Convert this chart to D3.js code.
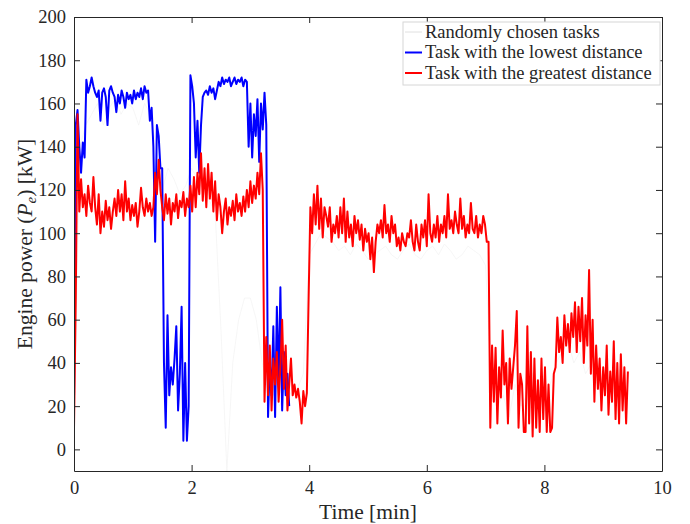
<!DOCTYPE html>
<html>
<style>
body { margin: 0; background: #fff; }
text { font-family: "Liberation Serif", "Times New Roman", serif; fill: #262626; }
</style>
<body>
<script src="https://d3js.org/d3.v7.min.js"></script>
<script>
// sample interval of the recorded traces (min)
var dt = 0.03;
var grayDt = 0.1;

var seriesNames = ["Randomly chosen tasks", "Task with the lowest distance", "Task with the greatest distance"];
var seriesColors = ["#e6e6e6", "#0000ff", "#ff0000"];

var xTicks = [0, 2, 4, 6, 8, 10];
var yTicks = [0, 20, 40, 60, 80, 100, 120, 140, 160, 180, 200];

// engine power [kW], one value per dt
var bluePower = [
  22,150,157,140,128,142,135,171,165,168,
  172,168,165,163,166,152,165,167,163,150,
  166,168,165,163,156,164,160,166,163,158,
  165,162,164,160,166,162,165,163,167,162,
  168,165,166,152,158,140,96,150,145,130,
  130,40,10,62,25,38,30,42,57,18,
  35,66,4,40,4,20,173,168,160,135,
  152,128,150,163,165,166,164,168,165,167,
  162,166,170,168,172,169,171,170,172,168,
  170,172,169,171,170,172,168,171,170,140,
  160,135,155,145,162,133,160,148,165,150,
  15,40,25,57,15,66,30,75,18,45,
  25,35,20
];

var redPower = [
  10,70,155,110,125,112,118,108,122,114,
  110,126,112,104,118,100,110,103,115,106,
  112,102,110,116,108,120,110,118,106,124,
  110,116,106,113,108,114,103,110,121,112,
  108,116,110,114,108,112,128,118,134,120,
  112,106,118,109,116,104,114,110,118,107,
  115,112,119,108,116,112,122,110,126,112,
  128,118,137,115,130,112,132,116,128,110,
  124,106,118,112,100,110,116,104,112,108,
  115,106,118,110,114,108,117,110,120,112,
  124,114,122,116,128,118,137,120,22,52,
  25,48,18,42,30,45,22,38,60,28,
  48,18,30,42,25,30,24,28,22,12,
  27,20,26,70,112,100,118,104,122,102,
  116,98,112,108,103,112,96,104,100,108,
  98,112,100,116,96,110,98,104,94,108,
  100,106,97,104,92,102,96,100,88,98,
  82,96,104,100,106,98,113,100,104,96,
  108,100,104,94,98,92,100,96,94,100,
  98,106,96,92,104,96,92,104,98,106,
  94,118,100,96,104,98,108,96,104,100,
  108,98,118,102,106,100,110,104,100,116,
  102,108,98,104,100,114,102,100,108,98,
  104,100,108,104,96,96,10,48,22,47,
  12,38,24,55,30,40,12,42,28,38,
  48,64,10,35,30,8,8,57,12,45,
  6,42,10,32,8,42,14,38,8,30,
  8,10,35,38,61,45,52,40,62,48,
  58,45,63,52,68,45,66,50,70,40,
  62,48,83,35,60,22,48,28,42,18,
  38,25,48,16,36,22,50,14,40,12,
  44,18,38,12,36
];

// faint background task, one value per grayDt
var grayPower = [
  15,140,150,155,160,150,158,162,155,160,
  158,150,160,155,140,120,130,125,118,122,
  130,125,120,115,110,55,-10,40,60,70,
  70,60,40,30,25,20,30,25,28,35,
  90,95,100,98,96,92,94,90,95,92,
  88,90,92,94,90,88,92,95,90,88,
  92,94,90,95,92,88,90,94,92,90,
  85,30,20,25,15,30,20,25,35,30,
  20,30,40,45,50,40,45,35,40,30,
  25,30,20,25,20
];

var width = 690, height = 524;
var margin = {left: 74, right: 28, top: 17, bottom: 53};

var x = d3.scaleLinear().domain([0, 10]).range([margin.left, width - margin.right]);
var y = d3.scaleLinear().domain([-10, 200]).range([height - margin.bottom, margin.top]);

var svg = d3.select("body").append("svg")
  .attr("width", width)
  .attr("height", height);

svg.append("defs").append("clipPath").attr("id", "clip")
  .append("rect")
  .attr("x", x(0)).attr("y", y(200))
  .attr("width", x(10) - x(0)).attr("height", y(-10) - y(200));

var line = d3.line()
  .x(function(d) { return x(d[0]); })
  .y(function(d) { return y(d[1]); });

function toPoints(values, step) {
  return values.map(function(v, i) { return [i * step, v]; });
}

var plot = svg.append("g").attr("clip-path", "url(#clip)");

plot.append("path")
  .attr("fill", "none")
  .attr("stroke", "#f4f4f4")
  .attr("stroke-width", 0.8)
  .attr("d", line(toPoints(grayPower, grayDt)));

plot.append("path")
  .attr("fill", "none")
  .attr("stroke", seriesColors[1])
  .attr("stroke-width", 2)
  .attr("stroke-linejoin", "round")
  .attr("d", line(toPoints(bluePower, dt)));

plot.append("path")
  .attr("fill", "none")
  .attr("stroke", seriesColors[2])
  .attr("stroke-width", 2)
  .attr("stroke-linejoin", "round")
  .attr("d", line(toPoints(redPower, dt)));

// axes, ticks inside on all four sides
var axisColor = "#262626";
var tickLen = 6;

svg.append("g")
  .attr("transform", "translate(0," + y(-10) + ")")
  .call(d3.axisBottom(x).tickValues(xTicks).tickSizeInner(-tickLen).tickSizeOuter(0).tickPadding(10))
  .call(styleAxis);

svg.append("g")
  .attr("transform", "translate(0," + y(200) + ")")
  .call(d3.axisTop(x).tickValues(xTicks).tickSizeInner(-tickLen).tickSizeOuter(0).tickFormat(""))
  .call(styleAxis);

svg.append("g")
  .attr("transform", "translate(" + x(0) + ",0)")
  .call(d3.axisLeft(y).tickValues(yTicks).tickSizeInner(-tickLen).tickSizeOuter(0).tickPadding(8))
  .call(styleAxis);

svg.append("g")
  .attr("transform", "translate(" + x(10) + ",0)")
  .call(d3.axisRight(y).tickValues(yTicks).tickSizeInner(-tickLen).tickSizeOuter(0).tickFormat(""))
  .call(styleAxis);

function styleAxis(g) {
  g.select(".domain").attr("stroke", axisColor).attr("stroke-width", 1);
  g.selectAll(".tick line").attr("stroke", axisColor);
  g.selectAll(".tick text")
    .attr("font-family", "Liberation Serif, serif")
    .attr("font-size", 18.5)
    .attr("fill", axisColor);
}

// axis titles
svg.append("text")
  .attr("x", (x(0) + x(10)) / 2)
  .attr("y", 519)
  .attr("text-anchor", "middle")
  .attr("font-size", 21.5)
  .text("Time [min]");

var yl = svg.append("text")
  .attr("transform", "translate(32," + ((y(-10) + y(200)) / 2) + ") rotate(-90)")
  .attr("text-anchor", "middle")
  .attr("font-size", 21.5);
yl.append("tspan").text("Engine power (");
yl.append("tspan").attr("font-style", "italic").text("P");
yl.append("tspan").attr("font-style", "italic").attr("font-size", 15).attr("dy", 4).text("e");
yl.append("tspan").attr("dy", -4).text(") [kW]");

// legend
var legend = svg.append("g");
legend.append("rect")
  .attr("x", 403).attr("y", 22)
  .attr("width", 257).attr("height", 63)
  .attr("fill", "#fff")
  .attr("stroke", "#d6d6d6")
  .attr("stroke-width", 1);

seriesNames.forEach(function(name, i) {
  var ly = 32 + i * 20.5;
  legend.append("line")
    .attr("x1", 405).attr("x2", 422)
    .attr("y1", ly).attr("y2", ly)
    .attr("stroke", i === 0 ? "#e0e0e0" : seriesColors[i])
    .attr("stroke-width", i === 0 ? 1 : 2);
  legend.append("text")
    .attr("x", 425).attr("y", ly + 5.5)
    .attr("font-size", 18.5)
    .text(name);
});
</script>
</body>
</html>
